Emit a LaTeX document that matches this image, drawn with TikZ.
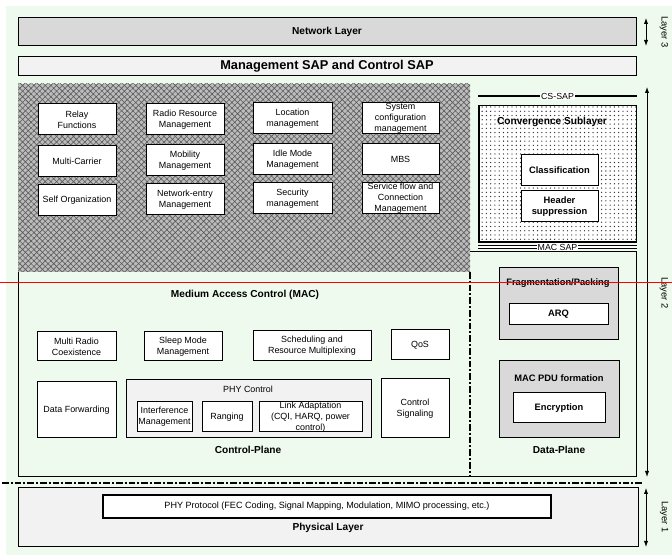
\documentclass[tikz,border=0pt]{standalone}
\usepackage{fontspec}
\setmainfont{Liberation Sans}
\usetikzlibrary{arrows.meta,patterns,patterns.meta,fit}
\definecolor{bggreen}{RGB}{237,250,237}
\definecolor{boxgray}{RGB}{217,217,217}
\definecolor{palegray}{RGB}{242,242,242}
\definecolor{hatchfill}{RGB}{188,188,188}
\definecolor{hatchline}{RGB}{90,90,90}
\tikzset{
  lbl/.style={font=\fontsize{6.7}{8.2}\selectfont, align=center},
  hdr/.style={font=\fontsize{7.6}{9}\selectfont\bfseries, align=center, inner sep=0.75pt},
  bhdr/.style={font=\fontsize{7}{8.4}\selectfont\bfseries, align=center},
  mbox/.style={draw, fill=white, line width=0.75pt, inner sep=0pt},
  layerbox/.style={draw, line width=0.75pt, inner sep=0pt},
  grpbox/.style={draw, line width=0.75pt, inner sep=0pt},
  dashdot/.style={line width=1pt, dash pattern=on 5pt off 1.5pt on 1.5pt off 1.5pt},
  lyrarrow/.style={{Latex[length=4.5pt,width=3.2pt]}-{Latex[length=4.5pt,width=3.2pt]}, line width=0.6pt},
  lyrlbl/.style={font=\fontsize{7}{8}\selectfont, rotate=-90, inner sep=0.75pt},
  saplbl/.style={fill=white, font=\fontsize{6.6}{8}\selectfont, inner sep=0.75pt}
}
\begin{document}
\begin{tikzpicture}[x=0.75pt,y=0.75pt,yscale=-1,xscale=1]
\useasboundingbox (0,0) rectangle (672,555);
%Shape: Rectangle (background)
\fill[bggreen] (6,6) rectangle (672,555);

%Shape: Network Layer
\node[layerbox, fill=boxgray, fit={(18,18) (636,46)}, label={[hdr]center:Network Layer}] (netlayer) {};
%Shape: Management SAP
\node[layerbox, fill=palegray, fit={(18,57) (636,76)}, label={[font=\fontsize{9.6}{11}\selectfont\bfseries]center:Management SAP and Control SAP}] (mgmtsap) {};

%Shape: Hatched management area
\fill[hatchfill] (18,84) rectangle (470,272);
\fill[pattern={Hatch[angle=45, distance=3pt, line width=0.45pt]}, pattern color=hatchline] (18,84) rectangle (470,272);

%Straight Lines: Layer 2 outline
\draw[line width=0.75pt] (18,272) -- (18,477) -- (636,477) -- (636,252) -- (470,252);
\draw[dashdot] (470,272) -- (470,477);

%Shape: management boxes
\node[mbox, fit={(38,104) (116,135)}, label={[lbl]center:{Relay\\Functions}}] (relay) {};
\node[mbox, fit={(146,104) (224,135)}, label={[lbl]center:{Radio Resource\\Management}}] (rrm) {};
\node[mbox, fit={(253,103) (332,134)}, label={[lbl]center:{Location\\management}}] (location) {};
\node[mbox, fit={(362,103) (439,134)}, label={[lbl]center:{System\\configuration\\management}}] (sysconf) {};
\node[mbox, fit={(38,146) (116,177)}, label={[lbl]center:{Multi-Carrier}}] (multicarrier) {};
\node[mbox, fit={(146,145) (224,176)}, label={[lbl]center:{Mobility\\Management}}] (mobility) {};
\node[mbox, fit={(253,144) (332,175)}, label={[lbl]center:{Idle Mode\\Management}}] (idlemode) {};
\node[mbox, fit={(362,144) (439,175)}, label={[lbl]center:{MBS}}] (mbs) {};
\node[mbox, fit={(38,185) (116,216)}, label={[lbl]center:{Self Organization}}] (selforg) {};
\node[mbox, fit={(146,184) (224,215)}, label={[lbl]center:{Network-entry\\Management}}] (netentry) {};
\node[mbox, fit={(253,183) (332,214)}, label={[lbl]center:{Security\\management}}] (security) {};
\node[mbox, fit={(362,183) (439,214)}, label={[lbl]center:{Service flow and\\Connection\\Management}}] (serviceflow) {};

%Straight Lines: CS-SAP
\coordinate (cssapL) at (478,96);
\coordinate (cssapR) at (637,96);
\draw[line width=1.5pt] (cssapL) -- (cssapR) node[midway, saplbl] (cssap) {CS-SAP};

%Shape: Convergence Sublayer
\node[grpbox, fill=white, fit={(479,106) (636,242)}] (convsub) {};
\fill[pattern={Dots[distance=3.2pt, radius=0.5pt]}, pattern color=black!85] (convsub.north west) rectangle (convsub.south east);
\draw[line width=0.75pt] (convsub.north west) rectangle (convsub.south east);
% Text Node
\node[hdr] (convtitle) at (552,122) {Convergence Sublayer};
\node[mbox, fit={(521,155) (598,186)}, label={[bhdr]center:{Classification}}] (classif) {};
\node[mbox, fit={(521,191) (598,222)}, label={[bhdr]center:{Header\\suppression}}] (headsup) {};

%Straight Lines: MAC SAP
\coordinate (macsapL) at (478,247);
\coordinate (macsapR) at (637,247);
\draw[double, double distance=1.1pt, line width=0.6pt] (macsapL) -- (macsapR) node[midway, saplbl] (macsap) {MAC SAP};

% Text Node
\node[hdr] (mactitle) at (245,295) {Medium Access Control (MAC)};

%Shape: control plane boxes
\node[mbox, fit={(37,332) (116,361)}, label={[lbl]center:{Multi Radio\\Coexistence}}] (multiradio) {};
\node[mbox, fit={(144,332) (222,361)}, label={[lbl]center:{Sleep Mode\\Management}}] (sleepmode) {};
\node[mbox, fit={(253,331) (371,361)}, label={[lbl]center:{Scheduling and\\Resource Multiplexing}}] (scheduling) {};
\node[mbox, fit={(391,330) (449,360)}, label={[lbl]center:{QoS}}] (qos) {};
\node[mbox, fit={(37,382) (116,438)}, label={[lbl]center:{Data Forwarding}}] (datafwd) {};
\node[grpbox, fill=palegray, fit={(126,380) (371,438)}] (phyctrl) {};
% Text Node
\node[lbl] (phyctrltitle) at (248,389) {PHY Control};
\node[mbox, fit={(137,402) (192,432)}, label={[lbl]center:{Interference\\Management}}] (interference) {};
\node[mbox, fit={(202,402) (252,432)}, label={[lbl]center:{Ranging}}] (ranging) {};
\node[mbox, fit={(259,402) (362,432)}, label={[lbl]center:{Link Adaptation\\(CQI, HARQ, power\\control)}}] (linkadapt) {};
\node[mbox, fit={(381,379) (449,438)}, label={[lbl]center:{Control\\Signaling}}] (ctrlsig) {};
% Text Node
\node[hdr] (ctrlplane) at (248,450) {Control-Plane};

%Shape: data plane boxes
\node[grpbox, fill=boxgray, fit={(499,268) (618,340)}] (fragpack) {};
% Text Node
\node[bhdr] (fragtitle) at (558,283) {Fragmentation/Packing};
\node[mbox, fit={(509,304) (608,325)}, label={[bhdr]center:{ARQ}}] (arq) {};
\node[grpbox, fill=boxgray, fit={(499,361) (619,438)}] (macpdu) {};
% Text Node
\node[bhdr] (macpdutitle) at (559,378) {MAC PDU formation};
\node[mbox, fit={(513,393) (605,423)}, label={[bhdr]center:{Encryption}}] (encryption) {};
% Text Node
\node[hdr] (dataplane) at (559,450) {Data-Plane};

%Straight Lines: layer 1 / layer 2 border
\coordinate (borderL) at (2,483);
\coordinate (borderR) at (644,483);
\draw[dashdot] (borderL) -- (borderR);

%Shape: Physical Layer
\node[layerbox, fill=palegray, fit={(18,488) (638,547)}] (physlayer) {};
\node[mbox, line width=1.5pt, fit={(103,495) (551,518)}, label={[font=\fontsize{6.8}{8}\selectfont]center:{PHY Protocol (FEC Coding, Signal Mapping, Modulation, MIMO processing, etc.)}}] (phyproto) {};
% Text Node
\node[hdr] (physlabel) at (328,528) {Physical Layer};

%Straight Lines: layer arrows
\coordinate (l3top) at (646,18);
\coordinate (l3bot) at (646,46);
\draw[lyrarrow] (l3top) -- (l3bot);
\node[lyrlbl] (l3lbl) at (664,32) {Layer 3};
\coordinate (l2top) at (647,87);
\coordinate (l2bot) at (647,477);
\draw[lyrarrow] (l2top) -- (l2bot);
\node[lyrlbl] (l2lbl) at (664,293) {Layer 2};
\coordinate (l1top) at (646,488);
\coordinate (l1bot) at (646,547);
\draw[lyrarrow] (l1top) -- (l1bot);
\node[lyrlbl] (l1lbl) at (664,517) {Layer 1};

%Straight Lines: red marker line
\coordinate (redL) at (0,283);
\coordinate (redR) at (672,283);
\draw[red, line width=0.75pt] (redL) -- (redR);
\end{tikzpicture}
\end{document}
